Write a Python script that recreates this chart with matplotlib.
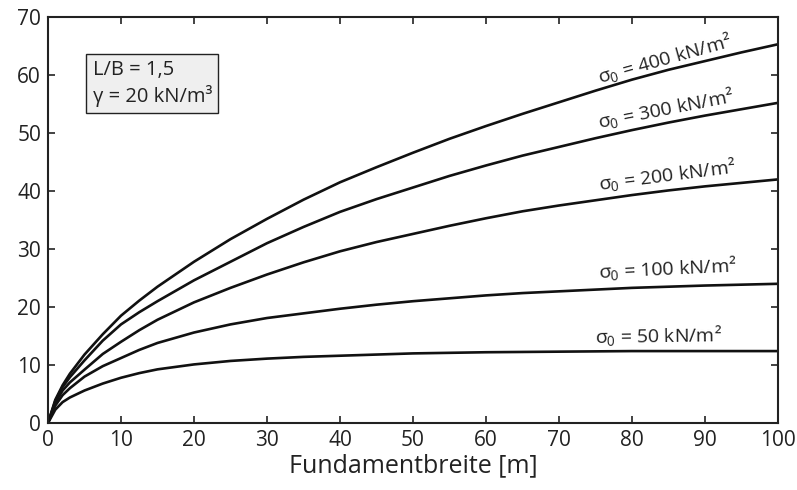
import numpy as np
import matplotlib.pyplot as plt

# Fundamentbreite [m]
breite = [0, 1, 2, 3, 5, 7.5, 10, 12.5, 15, 20, 25, 30, 35, 40, 45, 50,
          55, 60, 65, 70, 75, 80, 85, 90, 95, 100]

# Kurvenwerte je Sohlspannung
s400 = [0, 4.0, 6.5, 8.5, 11.8, 15.3, 18.5, 21.1, 23.5, 27.8, 31.7, 35.2, 38.5, 41.5, 44.1, 46.6,
        49.0, 51.2, 53.3, 55.3, 57.3, 59.2, 60.9, 62.4, 63.9, 65.3]
s300 = [0, 3.8, 6.2, 7.9, 10.8, 14.2, 17.0, 19.1, 21.0, 24.6, 27.8, 31.0, 33.8, 36.4, 38.6, 40.6,
        42.6, 44.4, 46.1, 47.6, 49.1, 50.5, 51.8, 53.0, 54.1, 55.2]
s200 = [0, 3.5, 5.6, 7.0, 9.2, 11.9, 14.0, 16.0, 17.8, 20.8, 23.3, 25.6, 27.7, 29.6, 31.2, 32.6,
        34.0, 35.3, 36.5, 37.5, 38.4, 39.3, 40.1, 40.8, 41.4, 42.0]
s100 = [0, 3.0, 4.8, 6.0, 8.0, 9.8, 11.2, 12.6, 13.8, 15.6, 17.0, 18.1, 18.9, 19.7, 20.4, 21.0,
        21.5, 22.0, 22.4, 22.7, 23.0, 23.3, 23.5, 23.7, 23.85, 24.0]
s50 = [0, 2.3, 3.6, 4.4, 5.6, 6.8, 7.8, 8.6, 9.25, 10.1, 10.7, 11.1, 11.4, 11.6, 11.8, 12.0,
       12.1, 12.2, 12.25, 12.3, 12.35, 12.4, 12.4, 12.4, 12.4, 12.4]

kurven = [s400, s300, s200, s100, s50]
labels = [r'$\sigma_0$ = 400 kN/m²', r'$\sigma_0$ = 300 kN/m²', r'$\sigma_0$ = 200 kN/m²',
          r'$\sigma_0$ = 100 kN/m²', r'$\sigma_0$ = 50 kN/m²']
# label position (x, y) and angle
label_pos = [(84.5, 62.8), (84.6, 54.2), (84.8, 42.8), (84.9, 26.6), (83.6, 15.1)]
label_rot = [15.5, 11.0, 7.3, 2.7, 0.8]

plt.rcParams['font.family'] = ['Open Sans', 'DejaVu Sans']
plt.rcParams['mathtext.fontset'] = 'custom'
plt.rcParams['mathtext.rm'] = 'Open Sans'
plt.rcParams['mathtext.it'] = 'Open Sans'
txt = '#222222'

fig = plt.figure(figsize=(7.97, 4.9), dpi=100)
ax = fig.add_axes([48 / 797, 1 - 423 / 490, 730 / 797, 406 / 490])

for werte in kurven:
    ax.plot(breite, werte, color='#111111', lw=1.9, solid_capstyle='butt')

for lab, (lx, ly), rot in zip(labels, label_pos, label_rot):
    ax.text(lx, ly, lab, rotation=rot, ha='center', va='center', fontsize=14,
            color=txt, rotation_mode='anchor')

# Info box
ax.text(0.061, 0.895, 'L/B = 1,5\nγ = 20 kN/m³', transform=ax.transAxes, fontsize=14.5,
        color=txt, va='top', ha='left', linespacing=1.3,
        bbox=dict(boxstyle='square,pad=0.3', facecolor='#efefef', edgecolor='#222222', lw=1))

ax.set_xlim(0, 100)
ax.set_ylim(0, 70)
ax.set_xticks(np.arange(0, 101, 10))
ax.set_yticks(np.arange(0, 71, 10))
ax.tick_params(direction='in', top=True, right=True, length=5, width=1.2,
               labelsize=15, colors='#222222', pad=5)
for sp in ax.spines.values():
    sp.set_linewidth(1.5)
    sp.set_color('#222222')

ax.set_xlabel('Fundamentbreite [m]', fontsize=18, color=txt, labelpad=2)

fig.savefig('out.png', dpi=100)
